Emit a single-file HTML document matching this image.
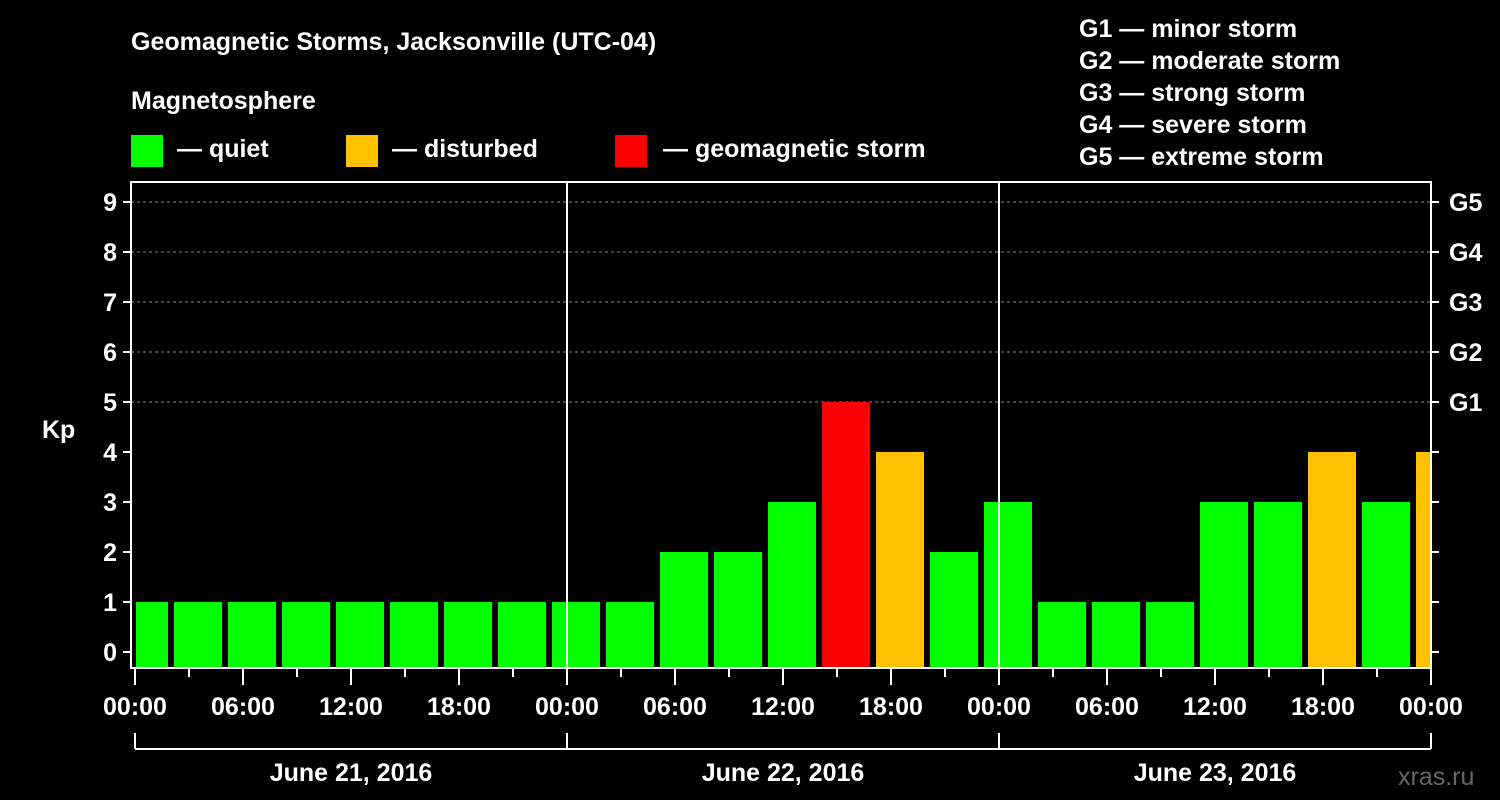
<!DOCTYPE html>
<html><head><meta charset="utf-8"><style>
html,body{margin:0;padding:0;background:#000;}
svg{display:block;font-family:"Liberation Sans",Arial,sans-serif;font-weight:bold;}
</style></head><body>
<svg id="c" width="1500" height="800" viewBox="0 0 1500 800">
<rect width="1500" height="800" fill="#000"/>
<text x="131" y="50" fill="#fff" font-size="25">Geomagnetic Storms, Jacksonville (UTC-04)</text>
<text x="131" y="109" fill="#fff" font-size="25">Magnetosphere</text>
<g><rect x="131" y="135" width="32" height="32" fill="#00ff00"/><text x="177" y="157" fill="#fff" font-size="25">— quiet</text></g>
<g><rect x="346" y="135" width="32" height="32" fill="#ffc000"/><text x="392" y="157" fill="#fff" font-size="25">— disturbed</text></g>
<g><rect x="615" y="135" width="32" height="32" fill="#ff0000"/><text x="663" y="157" fill="#fff" font-size="25">— geomagnetic storm</text></g>
<g fill="#fff" font-size="25">
<text x="1079" y="37">G1 — minor storm</text>
<text x="1079" y="69">G2 — moderate storm</text>
<text x="1079" y="101">G3 — strong storm</text>
<text x="1079" y="133">G4 — severe storm</text>
<text x="1079" y="165">G5 — extreme storm</text>
</g>
<text x="42" y="438" fill="#fff" font-size="25">Kp</text>
<text x="1398" y="785" fill="#666" font-size="25" font-weight="normal">xras.ru</text>
<g id="g"></g>
</svg>
<script>
const barStartHours=[-1,2,5,8,11,14,17,20,23,26,29,32,35,38,41,44,47,50,53,56,59,62,65,68,71];
const kpValues=[1,1,1,1,1,1,1,1,1,1,2,2,3,5,4,2,3,1,1,1,3,3,4,3,4];
const xTickLabels=["00:00","06:00","12:00","18:00","00:00","06:00","12:00","18:00","00:00","06:00","12:00","18:00","00:00"];
const dayLabels=["June 21, 2016","June 22, 2016","June 23, 2016"];
const gLabels=["G1","G2","G3","G4","G5"];
const NS="http://www.w3.org/2000/svg";
const g=document.getElementById('g');
const X0=135,PX_H=18,L=131,R=1431,T=182,B=668;
const x=h=>X0+h*PX_H;
const y=k=>652-k*50;
function mk(t,a,p){const e=document.createElementNS(NS,t);for(const k in a)e.setAttribute(k,a[k]);(p||g).appendChild(e);return e;}
function col(k){return k>=5?"#ff0000":k>=4?"#ffc000":"#00ff00";}
for(let k=5;k<=9;k++){const l=mk('line',{x1:L,x2:R,y1:y(k),y2:y(k),stroke:"#888","stroke-dasharray":"3,3","stroke-width":1});

}
barStartHours.forEach((h,i)=>{let x1=Math.max(x(h)+3,X0+1),x2=Math.min(x(h+3)-3,R);
const r=mk('rect',{x:x1,y:y(kpValues[i]),width:x2-x1,height:B-y(kpValues[i]),fill:col(kpValues[i])});

});
[24,48].forEach(h=>{const l=mk('line',{x1:x(h),x2:x(h),y1:T,y2:B,stroke:"#fff","stroke-width":2});

});
const fr=mk('rect',{x:L,y:T,width:R-L,height:B-T,fill:"none",stroke:"#fff","stroke-width":2});


for(let k=0;k<=9;k++){
mk('line',{x1:L-8,x2:L,y1:y(k),y2:y(k),stroke:"#fff","stroke-width":2});
mk('line',{x1:R,x2:R+8,y1:y(k),y2:y(k),stroke:"#fff","stroke-width":2});
const t=mk('text',{x:L-14,y:y(k)+9,fill:"#fff","font-size":25,"text-anchor":"end"});t.textContent=k;

}
gLabels.forEach((s,i)=>{const t=mk('text',{x:1449,y:y(5+i)+9,fill:"#fff","font-size":25});t.textContent=s;

});
for(let h=0;h<=72;h+=3){mk('line',{x1:x(h),x2:x(h),y1:B,y2:B+(h%6==0?17:9),stroke:"#fff","stroke-width":2});}
xTickLabels.forEach((s,i)=>{const t=mk('text',{x:x(i*6),y:715,fill:"#fff","font-size":25,"text-anchor":"middle"});t.textContent=s;

});
mk('line',{x1:x(0),x2:x(72),y1:749,y2:749,stroke:"#fff","stroke-width":2});
[0,24,48,72].forEach(h=>mk('line',{x1:x(h),x2:x(h),y1:733,y2:749,stroke:"#fff","stroke-width":2}));
dayLabels.forEach((s,i)=>{const t=mk('text',{x:x(i*24+12),y:781,fill:"#fff","font-size":25,"text-anchor":"middle"});t.textContent=s;

});
</script>
</body></html>
